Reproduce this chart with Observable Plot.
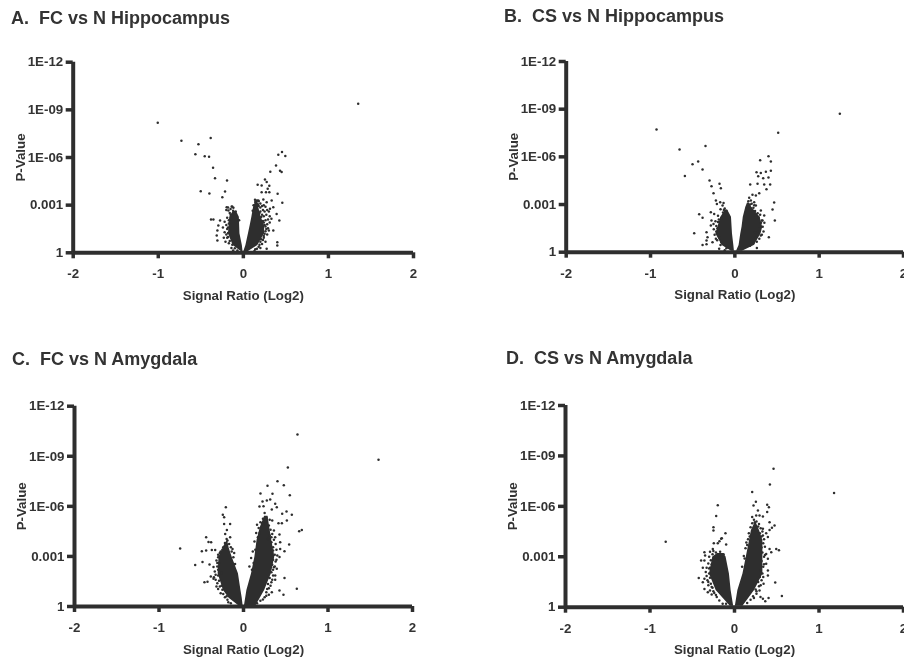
<!DOCTYPE html>
<html><head><meta charset="utf-8">
<script src="https://cdn.jsdelivr.net/npm/d3@7"></script>
<script src="https://cdn.jsdelivr.net/npm/@observablehq/plot@0.6"></script>
<style>
html,body{margin:0;padding:0;background:#fff;overflow:hidden}
#page{position:relative;width:904px;height:659px;overflow:hidden;filter:blur(.45px)}
.panel{position:absolute}
.ttl{position:absolute;font:bold 18px "Liberation Sans",Arial,sans-serif;color:#333;white-space:pre;line-height:20px}
</style></head><body><div id="page"></div>
<script>
// shared axis values
const xTicks=[-2,-1,0,1,2];
const yTicks=[0,3,6,9,12];
const yTickLabels=["1","0.001","1E-06","1E-09","1E-12"];
const xLabel="Signal Ratio (Log2)";
const yLabel="P-Value";
const titles=["A.  FC vs N Hippocampus","B.  CS vs N Hippocampus","C.  FC vs N Amygdala","D.  CS vs N Amygdala"];

// dense cores: outline of each wedge, [ -log10 p, left edge, right edge ]
const coreA_neg=[[.08,-.025,-.004],[.46,-.12,-.012],[1.2,-.175,-.04],[2.24,-.16,-.047],[2.6,-.12,-.08]];
const coreA_pos=[[.08,.006,.06],[.46,.03,.17],[1.2,.06,.25],[1.7,.08,.25],[2.24,.1,.21],[2.87,.12,.18],[3.3,.15,.17]];
const coreB_neg=[[.06,-.04,-.005],[.42,-.15,-.012],[1.15,-.225,-.028],[2.2,-.166,-.04],[2.66,-.11,-.085]];
const coreB_pos=[[.06,.02,.09],[.42,.05,.23],[1.15,.07,.31],[1.57,.085,.33],[2.2,.1,.3],[2.83,.13,.2],[3.1,.15,.17]];
const coreC_neg=[[.06,-.06,-.005],[.5,-.17,-.015],[.96,-.237,-.03],[1.96,-.3,-.06],[2.96,-.29,-.135],[3.5,-.24,-.17],[3.9,-.2,-.185]];
const coreC_pos=[[.06,.012,.15],[.96,.04,.25],[1.96,.095,.33],[2.96,.135,.37],[3.95,.16,.335],[4.75,.2,.31],[5.4,.25,.29]];
const coreD_neg=[[.05,-.05,-.01],[.99,-.217,-.04],[1.98,-.296,-.06],[2.98,-.257,-.1],[3.2,-.2,-.13]];
const coreD_pos=[[.05,.01,.1],[.99,.04,.237],[1.98,.1,.336],[2.98,.14,.336],[3.97,.178,.336],[4.56,.2,.296],[5.0,.24,.26]];

// individually visible points: [ log2 ratio, -log10 p ]
const pointsA=[[1.35,9.38],[-1.006,8.18],[-.728,7.05],[-.528,6.84],[-.384,7.22],[-.564,6.21],[-.454,6.08],[-.403,6.04],[-.356,5.35],[-.333,4.7],[-.192,4.55],[-.501,3.88],[-.399,3.73],[-.215,3.86],[-.247,3.5],
[.411,6.17],[.454,6.34],[.493,6.1],[.384,5.5],[.317,5.1],[.431,5.16],[.45,5.08],[.254,4.62],[.168,4.28],[.215,4.24],[.274,4.45],[.305,4.22],[.286,4.03],[.266,3.82],[.215,3.82],[.305,3.82],[.403,3.71],[.458,3.15],[.333,3.29],[.137,3.34],[.176,3.29],[.235,3.36],[.274,3.19],[.352,2.87],[.313,2.77],[.391,2.45],[.423,2.03],[.352,1.41],[.399,.67],[.399,.46],[.274,.25],
[-.38,2.1],[-.352,2.1],[-.274,2.03],[-.294,1.72],[-.305,1.41],[-.313,1.09],[-.305,.78],[-.196,2.87],[-.137,2.92],[-.176,2.66],[-.117,2.83],
[.14,3.2],[.16,3.3],[.18,3.25],[.2,3.1],[.22,2.95],[.24,3.0],[.26,2.9],[.28,2.7],[.25,2.6],[.23,2.7],[.3,2.6],[.27,2.4],[.24,2.3],[.31,2.3],[.29,2.1],[.26,2.05],[.23,2.0],[.33,2.15],[.28,1.8],[.25,1.75],[.31,1.9],[.23,1.6],[.27,1.5],[.3,1.4],[.22,1.3],[.25,1.2],[.28,1.15],[.24,.95],[.21,.85],[.26,.7],[.22,.55],[.19,.5],[.2,.3],[.16,.25],[.13,.12],[.18,2.95],[.16,2.75],[.2,2.6],[.21,2.25],
[.29,1.55],[.26,1.35],[.24,1.05],[.23,.8],[.2,.7],[.18,.38],[.14,.22],[.19,2.5],[.22,2.4],[.2,2.85],[.17,3.05],[.24,1.9],[.26,1.65],[.11,2.65],[.12,3.0],[.13,2.45],
[-.2,2.7],[-.18,2.85],[-.15,2.75],[-.13,2.9],[-.16,2.5],[-.19,2.2],[-.22,1.95],[-.2,1.75],[-.24,1.6],[-.19,1.5],[-.22,1.3],[-.2,1.15],[-.18,1.0],[-.23,.95],[-.21,.7],[-.17,.6],[-.14,.3],[-.12,.15],[-.17,1.85],[-.18,1.25],
[-.18,1.6],[-.19,.95],[-.16,.75],[-.13,.5],[-.1,.28],[-.17,2.05],[-.15,2.4],[-.12,2.65],[-.09,2.6],[-.05,2.05],[-.07,.15]];
const pointsB=[[1.245,8.71],[-.929,7.72],[.514,7.51],[-.656,6.46],[-.348,6.69],[-.435,5.71],[-.502,5.54],[-.383,5.2],[-.593,4.8],[-.3,4.51],[-.182,4.3],[-.277,4.15],[-.166,4.03],[-.253,3.71],[-.225,3.25],[-.213,3.04],[-.174,3.15],[-.134,3.1],[-.146,2.94],[-.423,2.39],[-.383,2.16],[-.285,2.52],[-.245,2.41],[-.277,1.99],[-.253,1.78],[-.285,1.68],[-.482,1.2],[-.336,1.26],[-.324,.94],[-.336,.73],[-.383,.46],[-.336,.5],[-.265,.63],[-.186,.21],[-.206,1.5],[-.225,.84],
[.399,6.04],[.3,5.79],[.427,5.71],[.257,5.03],[.308,4.99],[.368,5.06],[.427,5.12],[.277,4.78],[.336,4.66],[.399,4.7],[.182,4.26],[.269,4.3],[.348,4.26],[.419,4.26],[.375,3.96],[.289,3.71],[.249,3.57],[.209,3.61],[.17,3.42],[.19,3.25],[.229,3.15],[.466,3.13],[.447,2.69],[.474,1.99],[.403,.94],[.308,1.05],[.328,1.99],[.348,2.31],[.308,2.62],[.249,2.94],[.15,2.73],[.261,.27],
[.16,3.2],[.18,3.0],[.2,3.05],[.22,2.8],[.19,2.75],[.27,2.45],[.24,2.6],[.3,2.35],[.28,2.2],[.31,1.85],[.33,1.6],[.3,1.55],[.27,1.3],[.24,1.25],[.22,.55],[.18,.4],[.34,1.3],[.32,1.1],[.29,.85],[.26,.65],[.25,.9],[.21,2.55],[.25,2.3],[.32,2.0],[.35,1.85],[.23,2.95],
[-.17,2.7],[-.14,2.5],[-.12,2.75],[-.2,2.3],[-.23,1.95],[-.22,1.3],[-.24,1.1],[-.18,.9],[-.17,.45],[-.1,2.6],[-.16,2.15],[-.25,1.45],[-.22,1.65],[-.2,1.9],[-.19,2.05],[-.13,2.65],[-.21,.75],[-.16,.62],[-.1,.25],[-.12,.12]];
const pointsC=[[1.598,8.79],[.639,10.3],[.525,8.33],[.402,7.51],[.477,7.27],[.284,7.23],[.548,6.67],[.201,6.77],[.343,6.75],[.225,6.29],[.276,6.35],[.316,6.41],[.375,6.15],[.189,5.99],[.237,6.01],[.394,5.95],[.335,5.81],[.509,5.69],[.572,5.49],[.458,5.55],[.513,5.15],[.414,4.99],[.454,4.99],[.69,4.59],[.659,4.51],[.426,4.31],[.375,4.15],[.434,3.85],[.54,3.71],[.485,3.31],[.434,3.45],[.426,2.96],[.394,2.26],[.375,1.86],[.485,1.7],[.375,1.6],[.631,1.06],[.426,.96],[.473,.7],[.335,.86],
[-.209,5.95],[-.245,5.49],[-.229,5.35],[-.229,4.95],[-.158,4.95],[-.197,4.59],[-.217,4.35],[-.158,4.15],[-.442,4.15],[-.414,3.87],[-.383,3.85],[-.75,3.47],[-.493,3.31],[-.442,3.35],[-.375,3.39],[-.335,3.39],[-.485,2.66],[-.572,2.48],[-.402,2.52],[-.355,2.36],[-.462,1.46],[-.426,1.48],[-.355,1.66],[-.387,1.8],
[.25,5.6],[.27,5.35],[.23,5.25],[.31,5.2],[.34,5.15],[.2,5.05],[.24,4.95],[.3,4.85],[.16,4.9],[.18,4.7],[.32,4.6],[.36,4.55],[.34,4.35],[.31,4.25],[.15,4.4],[.13,3.9],[.36,4.0],[.33,3.85],[.38,3.75],[.39,3.4],[.35,3.55],[.34,3.2],[.37,3.1],[.11,3.3],[.09,2.9],[.35,2.8],[.38,2.7],[.34,2.5],[.07,2.4],[.36,2.35],[.33,2.05],[.35,1.85],[.31,1.7],[.33,1.45],[.29,1.35],[.3,1.1],[.27,.85],[.3,.7],[.25,.55],[.2,.35],[.16,.2],
[.26,5.1],[.22,5.0],[.19,4.4],[.17,4.15],[.35,3.35],[.4,3.05],[.39,2.8],[.37,2.4],[.35,2.2],[.34,1.6],[.32,1.25],[.28,1.05],[.27,.65],[.23,.42],[.12,2.6],[.14,3.4],[.1,2.2],[.29,4.05],[.33,4.15],
[-.19,3.95],[-.17,3.75],[-.22,3.65],[-.15,3.55],[-.25,3.4],[-.28,3.2],[-.14,3.3],[-.3,2.95],[-.32,2.75],[-.29,2.6],[-.12,2.95],[-.31,2.4],[-.34,2.1],[-.3,2.2],[-.33,1.9],[-.3,1.85],[-.33,1.6],[-.31,1.4],[-.29,1.55],[-.28,1.2],[-.3,1.05],[-.25,1.0],[-.24,.75],[-.22,.55],[-.19,.4],[-.15,.2],[-.26,2.0],[-.1,2.55],
[-.35,1.75],[-.32,1.2],[-.27,.8],[-.26,1.25],[-.2,.62],[-.31,2.6],[-.3,3.1],[-.27,3.3],[-.22,3.8],[-.2,4.05],[-.24,3.55],[-.13,3.45],[-.11,3.2],[-.18,.25]];
const pointsD=[[1.178,6.79],[.462,8.23],[.419,7.3],[.209,6.85],[.253,6.27],[.225,6.05],[.387,6.09],[.407,5.95],[-.198,6.07],[-.217,5.42],[.387,5.67],[.277,5.75],[.209,5.36],[.257,5.46],[.296,5.46],[.336,5.4],[.415,5.06],[.474,4.86],[.443,4.72],[.415,4.6],[.336,4.66],[.375,4.4],[.395,4.17],[.336,4.27],[.494,3.47],[.526,3.39],[.415,3.47],[.375,3.17],[.435,3.27],[.395,2.88],[.375,2.58],[.395,2.18],[.395,1.88],[.344,1.39],[.482,1.47],[.296,.99],[.308,.6],[.336,.5],[.364,.36],[.403,.54],[.561,.67],
[-.814,3.89],[-.249,4.76],[-.249,4.56],[-.107,4.4],[-.158,4.07],[-.178,3.93],[-.15,4.1],[-.198,3.81],[-.099,3.73],[-.245,3.81],[-.356,3.27],[-.348,3.08],[-.257,3.47],[-.395,2.78],[-.356,2.78],[-.375,2.34],[-.423,1.73],[-.356,1.69],[-.375,1.49],[-.356,1.09],[-.316,.89],
[.23,5.2],[.26,5.1],[.21,5.0],[.29,4.95],[.31,4.7],[.19,4.75],[.33,4.5],[.17,4.4],[.32,4.2],[.16,4.05],[.35,4.05],[.14,3.85],[.34,3.8],[.36,3.6],[.32,3.55],[.13,3.5],[.33,3.25],[.11,3.05],[.35,3.0],[.32,2.75],[.34,2.4],[.31,2.2],[.33,2.0],[.3,1.8],[.32,1.6],[.28,1.5],[.29,1.25],[.25,1.05],[.26,.8],[.22,.65],[.19,.45],[.15,.25],
[.3,4.4],[.28,4.8],[.24,5.05],[.36,3.1],[.35,2.55],[.34,1.8],[.31,1.3],[.26,.95],[.23,.55],[.09,2.4],[.12,2.9],[.15,3.7],[.18,4.2],
[-.29,3.3],[-.26,3.15],[-.22,3.25],[-.18,3.1],[-.3,3.0],[-.24,2.95],[-.15,2.95],[-.28,2.8],[-.2,2.85],[-.31,2.6],[-.27,2.55],[-.33,2.35],[-.29,2.35],[-.34,2.1],[-.3,2.0],[-.33,1.85],[-.29,1.75],[-.32,1.6],[-.28,1.4],[-.31,1.3],[-.26,1.15],[-.29,1.0],[-.24,.85],[-.27,.75],[-.21,.6],[-.18,.4],[-.14,.2],
[-.25,3.35],[-.21,3.05],[-.17,3.3],[-.13,3.15],[-.3,2.3],[-.31,1.5],[-.27,1.2],[-.25,.95],[-.22,.72],[-.1,.2]];

const cfg=[
 {L:0,T:0,H:320,W:450,ml:72.7,mr:37,mt:61.7,mb:67.7,pts:pointsA,neg:coreA_neg,pos:coreA_pos,tx:11,ty:8},
 {L:454,T:0,H:320,W:450,ml:111.7,mr:1,mt:61,mb:68.3,pts:pointsB,neg:coreB_neg,pos:coreB_pos,tx:504,ty:6},
 {L:0,T:340,H:319,W:450,ml:74,mr:38,mt:65.7,mb:53,pts:pointsC,neg:coreC_neg,pos:coreC_pos,tx:12,ty:349},
 {L:454,T:340,H:319,W:450,ml:111,mr:1,mt:65,mb:52.3,pts:pointsD,neg:coreD_neg,pos:coreD_pos,tx:506,ty:348}
];
const ink="#2e2e2e";
const page=document.getElementById("page");
cfg.forEach((c,i)=>{
  const core=rows=>Plot.areaX(rows,{y:d=>d[0],x1:d=>d[1],x2:d=>d[2],fill:ink,curve:"linear"});
  const svg=Plot.plot({
    width:c.W,height:c.H,marginLeft:c.ml,marginRight:c.mr,marginTop:c.mt,marginBottom:c.mb,
    style:{background:"transparent",fontFamily:'"Liberation Sans",Arial,sans-serif',fontSize:"13.3px",fontWeight:"bold",color:"#333"},
    x:{domain:[-2,2]},
    y:{domain:[0,12]},
    marks:[
      core(c.neg),core(c.pos),
      Plot.dot(c.pts,{x:d=>d[0],y:d=>d[1],r:1.25,fill:ink,stroke:"none"}),
      Plot.axisX({ticks:xTicks,tickSize:6,tickPadding:10,strokeWidth:3.5,stroke:ink,tickFormat:d=>String(d),label:xLabel,labelAnchor:"center",labelArrow:"none",labelOffset:47,fill:"#333"}),
      Plot.axisY({ticks:yTicks,tickSize:7,tickPadding:3,strokeWidth:3.5,stroke:ink,tickFormat:d=>yTickLabels[yTicks.indexOf(d)],label:yLabel,labelAnchor:"center",labelArrow:"none",labelOffset:58,fill:"#333"}),
      Plot.ruleY([0],{stroke:ink,strokeWidth:4}),
      Plot.ruleX([-2],{stroke:ink,strokeWidth:4})
    ]
  });
  const box=document.createElement("div");
  box.className="panel";box.style.cssText=`left:${c.L}px;top:${c.T}px;width:${c.W}px;height:${c.H}px`;
  box.appendChild(svg);page.appendChild(box);
  const t=document.createElement("div");
  t.className="ttl";t.style.left=c.tx+"px";t.style.top=c.ty+"px";t.textContent=titles[i];
  page.appendChild(t);
});
</script></body></html>
